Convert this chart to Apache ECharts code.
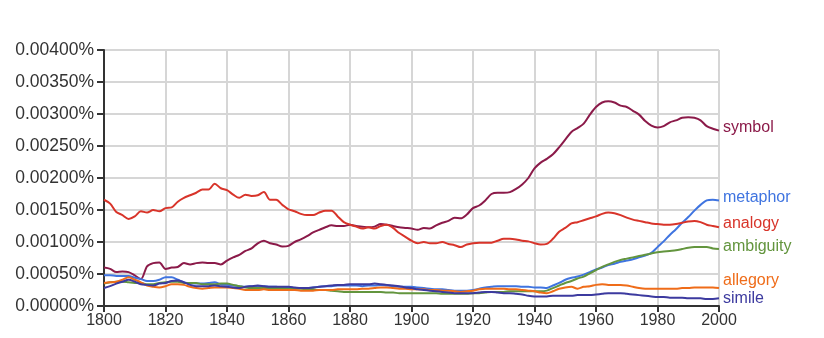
<!DOCTYPE html>
<html>
<head>
<meta charset="utf-8">
<script src="https://cdn.jsdelivr.net/npm/echarts@6/dist/echarts.min.js"></script>
<style>html,body{margin:0;padding:0;background:#fff}#c{width:824px;height:338px}</style>
</head>
<body>
<div id="c"></div>
<script>
const years = [];
for (let y = 1800; y <= 2000; y += 2) years.push(y);

const symbol = [0.00060,0.00058,0.00053,0.00054,0.00053,0.00048,0.00042,0.00062,0.00067,0.00068,0.00058,0.00060,0.00061,0.00067,0.00065,0.00067,0.00068,0.00067,0.00067,0.00065,0.00071,0.00076,0.00080,0.00086,0.00090,0.00098,0.00102,0.00098,0.00096,0.00093,0.00094,0.00100,0.00104,0.00109,0.00115,0.00119,0.00123,0.00126,0.00125,0.00125,0.00127,0.00125,0.00124,0.00123,0.00124,0.00128,0.00127,0.00125,0.00123,0.00122,0.00121,0.00119,0.00122,0.00121,0.00126,0.00130,0.00133,0.00138,0.00137,0.00143,0.00153,0.00157,0.00165,0.00175,0.00177,0.00177,0.00178,0.00183,0.00190,0.00200,0.00215,0.00224,0.00230,0.00237,0.00248,0.00260,0.00272,0.00278,0.00285,0.00299,0.00311,0.00318,0.00320,0.00318,0.00313,0.00311,0.00305,0.00299,0.00289,0.00282,0.00279,0.00281,0.00287,0.00290,0.00294,0.00295,0.00294,0.00290,0.00281,0.00277,0.00274];

const metaphor = [0.00048,0.00048,0.00047,0.00047,0.00047,0.00044,0.00042,0.00039,0.00039,0.00041,0.00045,0.00045,0.00041,0.00037,0.00035,0.00035,0.00035,0.00036,0.00037,0.00034,0.00033,0.00032,0.00031,0.00030,0.00031,0.00031,0.00031,0.00030,0.00030,0.00029,0.00029,0.00028,0.00028,0.00028,0.00029,0.00030,0.00031,0.00031,0.00032,0.00032,0.00032,0.00032,0.00031,0.00032,0.00032,0.00033,0.00032,0.00031,0.00030,0.00030,0.00030,0.00029,0.00028,0.00027,0.00026,0.00026,0.00025,0.00024,0.00024,0.00024,0.00025,0.00027,0.00029,0.00030,0.00031,0.00031,0.00031,0.00031,0.00030,0.00030,0.00029,0.00029,0.00028,0.00032,0.00036,0.00041,0.00044,0.00046,0.00049,0.00053,0.00057,0.00060,0.00064,0.00066,0.00069,0.00071,0.00073,0.00076,0.00079,0.00083,0.00092,0.00101,0.00111,0.00120,0.00130,0.00139,0.00149,0.00158,0.00165,0.00166,0.00165];

const analogy = [0.00166,0.00160,0.00147,0.00142,0.00136,0.00140,0.00148,0.00146,0.00150,0.00148,0.00153,0.00154,0.00163,0.00169,0.00173,0.00177,0.00182,0.00182,0.00191,0.00184,0.00181,0.00174,0.00169,0.00174,0.00172,0.00173,0.00178,0.00166,0.00166,0.00158,0.00151,0.00148,0.00144,0.00142,0.00142,0.00146,0.00149,0.00149,0.00140,0.00131,0.00127,0.00124,0.00121,0.00123,0.00121,0.00125,0.00127,0.00122,0.00114,0.00108,0.00102,0.00098,0.00100,0.00098,0.00098,0.00100,0.00097,0.00095,0.00092,0.00096,0.00098,0.00099,0.00099,0.00099,0.00102,0.00105,0.00105,0.00104,0.00102,0.00101,0.00098,0.00096,0.00097,0.00105,0.00116,0.00122,0.00129,0.00131,0.00134,0.00137,0.00140,0.00144,0.00146,0.00145,0.00142,0.00138,0.00135,0.00133,0.00131,0.00129,0.00128,0.00127,0.00127,0.00128,0.00130,0.00132,0.00133,0.00131,0.00127,0.00125,0.00123];

const ambiguity = [0.00035,0.00037,0.00038,0.00038,0.00037,0.00036,0.00036,0.00034,0.00034,0.00036,0.00037,0.00038,0.00038,0.00036,0.00036,0.00036,0.00034,0.00034,0.00034,0.00035,0.00035,0.00033,0.00031,0.00029,0.00028,0.00028,0.00028,0.00028,0.00028,0.00028,0.00027,0.00027,0.00027,0.00026,0.00026,0.00025,0.00025,0.00024,0.00023,0.00022,0.00022,0.00022,0.00022,0.00022,0.00022,0.00022,0.00021,0.00021,0.00020,0.00020,0.00020,0.00020,0.00020,0.00020,0.00020,0.00019,0.00019,0.00019,0.00019,0.00019,0.00020,0.00020,0.00021,0.00022,0.00022,0.00022,0.00023,0.00023,0.00023,0.00023,0.00023,0.00023,0.00024,0.00028,0.00032,0.00036,0.00039,0.00043,0.00046,0.00051,0.00056,0.00061,0.00065,0.00069,0.00072,0.00074,0.00076,0.00078,0.00080,0.00082,0.00084,0.00085,0.00086,0.00087,0.00089,0.00091,0.00092,0.00092,0.00092,0.00090,0.00089];

const allegory = [0.00036,0.00037,0.00038,0.00041,0.00045,0.00041,0.00037,0.00032,0.00030,0.00029,0.00031,0.00034,0.00034,0.00033,0.00030,0.00028,0.00027,0.00028,0.00029,0.00029,0.00029,0.00028,0.00027,0.00025,0.00025,0.00025,0.00026,0.00025,0.00025,0.00025,0.00025,0.00025,0.00024,0.00024,0.00024,0.00025,0.00025,0.00025,0.00026,0.00026,0.00026,0.00026,0.00027,0.00027,0.00028,0.00029,0.00029,0.00028,0.00027,0.00027,0.00026,0.00026,0.00026,0.00025,0.00025,0.00024,0.00024,0.00023,0.00022,0.00023,0.00024,0.00026,0.00027,0.00027,0.00027,0.00027,0.00026,0.00026,0.00025,0.00024,0.00023,0.00021,0.00020,0.00023,0.00027,0.00029,0.00030,0.00027,0.00030,0.00031,0.00033,0.00034,0.00033,0.00033,0.00033,0.00032,0.00030,0.00028,0.00027,0.00027,0.00027,0.00027,0.00027,0.00027,0.00028,0.00028,0.00029,0.00029,0.00029,0.00029,0.00028];

const simile = [0.00028,0.00031,0.00035,0.00038,0.00041,0.00038,0.00034,0.00033,0.00032,0.00035,0.00036,0.00039,0.00040,0.00037,0.00033,0.00031,0.00031,0.00031,0.00032,0.00031,0.00030,0.00029,0.00028,0.00030,0.00031,0.00032,0.00031,0.00030,0.00030,0.00030,0.00030,0.00029,0.00028,0.00028,0.00029,0.00030,0.00031,0.00032,0.00033,0.00033,0.00034,0.00034,0.00034,0.00034,0.00035,0.00034,0.00033,0.00032,0.00031,0.00029,0.00028,0.00026,0.00025,0.00024,0.00023,0.00022,0.00021,0.00020,0.00020,0.00020,0.00020,0.00021,0.00022,0.00022,0.00021,0.00020,0.00020,0.00019,0.00018,0.00016,0.00015,0.00015,0.00015,0.00016,0.00016,0.00016,0.00016,0.00017,0.00017,0.00017,0.00018,0.00019,0.00020,0.00020,0.00020,0.00019,0.00018,0.00017,0.00016,0.00015,0.00014,0.00014,0.00013,0.00013,0.00013,0.00012,0.00012,0.00012,0.00011,0.00011,0.00012];

const seriesDefs = [
  {name:'symbol', data:symbol, color:'#8b1a49', dy:-3},
  {name:'metaphor', data:metaphor, color:'#3f74e0', dy:-3},
  {name:'analogy', data:analogy, color:'#d8342a', dy:-4},
  {name:'ambiguity', data:ambiguity, color:'#63953e', dy:-2},
  {name:'allegory', data:allegory, color:'#ef6c19', dy:-7},
  {name:'simile', data:simile, color:'#3c3a9f', dy:0}
];

const FONT = 'Liberation Sans, Arial, sans-serif';
const chart = echarts.init(document.getElementById('c'), null, {renderer:'canvas'});
chart.setOption({
  animation:false,
  backgroundColor:'#fff',
  grid:{left:104, right:105, top:50, bottom:32},
  xAxis:{
    type:'value', min:1800, max:2000, interval:20,
    axisLine:{show:true, onZero:false, lineStyle:{color:'#333', width:2}},
    axisTick:{show:true, length:6, lineStyle:{color:'#333', width:2}},
    axisLabel:{color:'#333', fontSize:16, fontFamily:FONT, margin:7, formatter:v => String(v)},
    splitLine:{show:true, lineStyle:{color:'#d6d6d6', width:2}}
  },
  yAxis:{
    type:'value', min:0, max:0.004, interval:0.0005,
    axisLine:{show:true, lineStyle:{color:'#333', width:2}},
    axisTick:{show:true, length:7, lineStyle:{color:'#333', width:2}},
    axisLabel:{color:'#333', fontSize:17.5, fontFamily:FONT, margin:10,
      formatter:v => v.toFixed(5) + '%'},
    splitLine:{show:true, lineStyle:{color:'#d6d6d6', width:2}}
  },
  series: seriesDefs.map(s => ({
    name:s.name, type:'line', showSymbol:false, smooth:0.3,
    data: years.map((y,i) => [y, s.data[i]]),
    lineStyle:{color:s.color, width:2},
    itemStyle:{color:s.color},
    endLabel:{show:true, formatter:'{a}', color:s.color, fontSize:16,
      fontFamily:FONT, distance:4, offset:[0, s.dy]}
  }))
});
</script>
</body>
</html>
